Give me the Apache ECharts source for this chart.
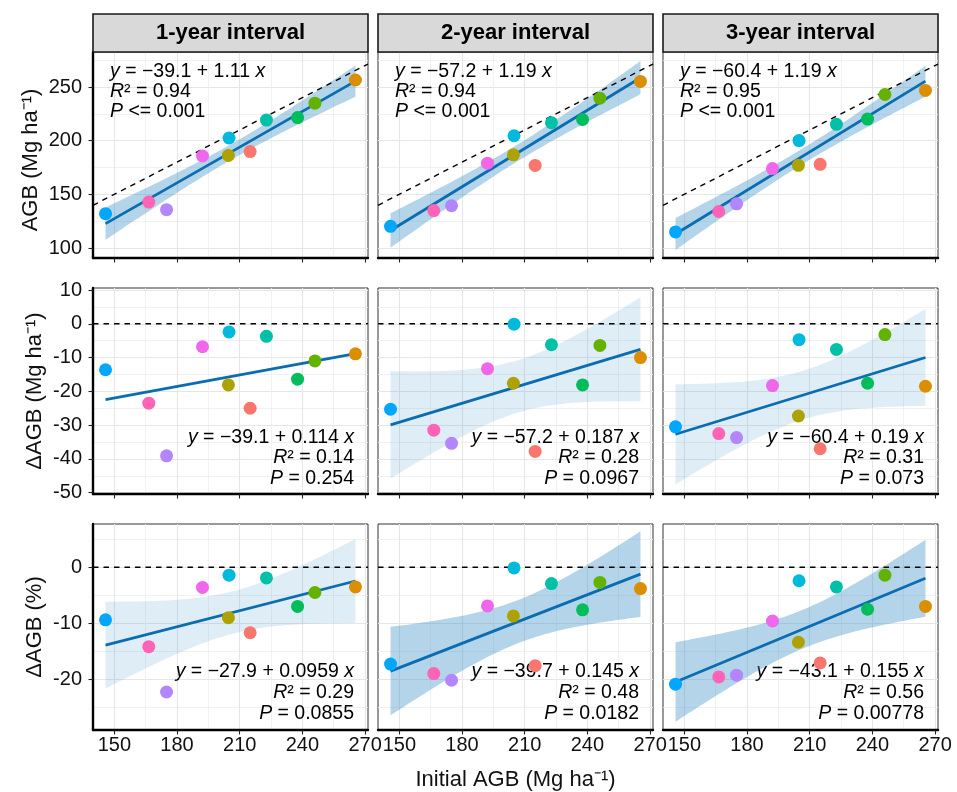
<!DOCTYPE html>
<html>
<head>
<meta charset="utf-8">
<script src="https://cdn.jsdelivr.net/npm/echarts@6/dist/echarts.min.js"></script>
<style>
html, body { margin: 0; padding: 0; background: #fff; }
#main { width: 957px; height: 792px; }
</style>
</head>
<body>
<div id="main"></div>
<script>
// plots: salmon, orange, olive, lime, green, teal, cyan, blue, purple, magenta, pink
var plotColors = ['#F8766D', '#DB8E00', '#AEA200', '#64B200', '#00BD5C', '#00C1A7', '#00BADE', '#00A6FF', '#B385FF', '#EF67EB', '#FF63B6'];
var initialAgb = [215.0, 265.4, 204.6, 246.0, 237.7, 222.8, 204.9, 145.8, 175.0, 192.2, 166.5];

// AGB after interval
var agb1 = [189.8, 256.5, 186.3, 234.9, 221.5, 219.2, 202.5, 132.0, 135.7, 185.7, 142.8];
var agb2 = [176.9, 255.2, 186.8, 239.5, 219.7, 216.7, 204.6, 120.2, 139.4, 179.0, 134.9];
var agb3 = [178.0, 246.8, 177.0, 243.0, 220.1, 215.2, 200.1, 115.0, 141.2, 174.0, 134.0];
// delta AGB (Mg/ha)
var dAgb1 = [-25.0, -8.9, -18.1, -11.0, -16.4, -3.7, -2.4, -13.6, -39.1, -6.8, -23.5];
var dAgb2 = [-37.8, -10.0, -17.6, -6.4, -18.1, -6.2, -0.1, -25.3, -35.4, -13.3, -31.5];
var dAgb3 = [-37.0, -18.5, -27.3, -3.2, -17.6, -7.6, -4.7, -30.5, -33.7, -18.3, -32.5];
// delta AGB (%)
var pAgb1 = [-11.7, -3.5, -9.0, -4.5, -7.0, -1.9, -1.4, -9.4, -22.3, -3.6, -14.2];
var pAgb2 = [-17.6, -3.8, -8.7, -2.7, -7.6, -2.9, -0.1, -17.3, -20.2, -6.9, -19.0];
var pAgb3 = [-17.1, -7.0, -13.4, -1.4, -7.5, -3.5, -2.4, -20.9, -19.3, -9.6, -19.6];

var panelData = [[agb1, agb2, agb3], [dAgb1, dAgb2, dAgb3], [pAgb1, pAgb2, pAgb3]];

var colNames = ['1-year interval', '2-year interval', '3-year interval'];
var rowNames = ['AGB (Mg ha\u207B\u00B9)', '\u0394AGB (Mg ha\u207B\u00B9)', '\u0394AGB (%)'];

var intercepts = [[-39.1, -57.2, -60.4], [-39.1, -57.2, -60.4], [-27.9, -39.7, -43.1]];
var slopes = [[1.11, 1.19, 1.19], [0.114, 0.187, 0.19], [0.0959, 0.145, 0.155]];
var interceptLabels = [['39.1', '57.2', '60.4'], ['39.1', '57.2', '60.4'], ['27.9', '39.7', '43.1']];
var slopeLabels = [['1.11', '1.19', '1.19'], ['0.114', '0.187', '0.19'], ['0.0959', '0.145', '0.155']];
var r2Labels = [['0.94', '0.94', '0.95'], ['0.14', '0.28', '0.31'], ['0.29', '0.48', '0.56']];
var pLabels = [['<= 0.001', '<= 0.001', '<= 0.001'], ['= 0.254', '= 0.0967', '= 0.073'], ['= 0.0855', '= 0.0182', '= 0.00778']];
// 0 = no band, 1 = light (0.05 < P < 0.1), 2 = normal (P < 0.05)
var bandLevel = [[2, 2, 2], [0, 1, 1], [1, 2, 2]];

var xTicks = [150, 180, 210, 240, 270];
var xMinorTicks = [165, 195, 225, 255];
var xLimits = [139.8, 271.4];
var yTicks = [[100, 150, 200, 250], [-50, -40, -30, -20, -10, 0, 10], [-20, -10, 0]];
var yMinorTicks = [[125, 175, 225, 275], [-45, -35, -25, -15, -5, 5], [-25, -15, -5, 5]];
var yLimits = [[90.7, 282.6], [-50.4, 10.6], [-29.1, 7.75]];

var FONT = 'Liberation Sans, Arial, Helvetica, sans-serif';
var colLeft = [93, 378, 663];
var rowTop = [52, 288, 524];
var PW = 275, PH = 206;
var lineColor = '#0a6db2';
var bandColors = [null, 'rgba(58,143,200,0.16)', 'rgba(58,143,200,0.38)'];

// 95% confidence band of the fitted line
function confBand(xs, ys, a, b) {
    var n = xs.length, xm = 0, sxx = 0, sse = 0;
    for (var i = 0; i < n; i++) xm += xs[i];
    xm /= n;
    for (var i = 0; i < n; i++) {
        sxx += (xs[i] - xm) * (xs[i] - xm);
        var e = ys[i] - (a + b * xs[i]);
        sse += e * e;
    }
    var s = Math.sqrt(sse / (n - 2)), t = 2.262;
    var x0 = Math.min.apply(null, xs), x1 = Math.max.apply(null, xs);
    var hi = [], lo = [];
    for (var k = 0; k <= 60; k++) {
        var x = x0 + (x1 - x0) * k / 60;
        var h = t * s * Math.sqrt(1 / n + (x - xm) * (x - xm) / sxx);
        hi.push([x, a + b * x + h]);
        lo.push([x, a + b * x - h]);
    }
    return hi.concat(lo.reverse());
}

var grids = [], xAxes = [], yAxes = [], series = [], graphics = [];

for (var r = 0; r < 3; r++) {
    for (var c = 0; c < 3; c++) {
        var g = r * 3 + c;
        grids.push({
            left: colLeft[c], top: rowTop[r], width: PW, height: PH,
            show: true, borderColor: '#333', borderWidth: 1, backgroundColor: 'transparent',
            containLabel: false, outerBoundsMode: 'none'
        });
        // main axes
        xAxes.push({
            type: 'value', gridIndex: g, min: xLimits[0], max: xLimits[1],
            axisLine: { show: true, onZero: false, lineStyle: { color: '#000', width: 2.4 } },
            axisTick: { show: true, length: 4.5, customValues: xTicks, lineStyle: { color: '#222', width: 1.1 } },
            axisLabel: { show: r === 2, customValues: xTicks, margin: 5, fontSize: 20, color: '#111', fontFamily: FONT },
            splitLine: { show: true, lineStyle: { color: '#e6e6e6', width: 1.1 } }
        });
        // minor grid lines
        xAxes.push({
            type: 'value', gridIndex: g, min: xLimits[0], max: xLimits[1],
            axisLine: { show: false },
            axisTick: { show: false, customValues: xMinorTicks },
            axisLabel: { show: false, customValues: xMinorTicks },
            splitLine: { show: true, lineStyle: { color: '#eeeeee', width: 0.8 } }
        });
        yAxes.push({
            type: 'value', gridIndex: g, min: yLimits[r][0], max: yLimits[r][1],
            axisLine: { show: c === 0, onZero: false, lineStyle: { color: '#000', width: 2.4 } },
            axisTick: { show: c === 0, length: 4.5, customValues: yTicks[r], lineStyle: { color: '#222', width: 1.1 } },
            axisLabel: { show: c === 0, customValues: yTicks[r], margin: 11, fontSize: 20, color: '#111', fontFamily: FONT },
            splitLine: { show: true, lineStyle: { color: '#e6e6e6', width: 1.1 } }
        });
        yAxes.push({
            type: 'value', gridIndex: g, min: yLimits[r][0], max: yLimits[r][1],
            axisLine: { show: false },
            axisTick: { show: false, customValues: yMinorTicks[r] },
            axisLabel: { show: false, customValues: yMinorTicks[r] },
            splitLine: { show: true, lineStyle: { color: '#eeeeee', width: 0.8 } }
        });

        var xi = 2 * g, yi = 2 * g;
        var ys = panelData[r][c];
        var a = intercepts[r][c], b = slopes[r][c];

        if (bandLevel[r][c] > 0) {
            (function (pts, fill) {
                series.push({
                    type: 'custom', xAxisIndex: xi, yAxisIndex: yi, silent: true, z: 2,
                    data: [0],
                    renderItem: function (params, api) {
                        return {
                            type: 'polygon',
                            shape: { points: pts.map(function (p) { return api.coord(p); }) },
                            style: { fill: fill, stroke: null }
                        };
                    }
                });
            })(confBand(initialAgb, ys, a, b), bandColors[bandLevel[r][c]]);
        }

        // reference line: 1:1 in top row, zero elsewhere
        var refLine = r === 0
            ? [[xLimits[0], xLimits[0]], [xLimits[1], xLimits[1]]]
            : [[xLimits[0], 0], [xLimits[1], 0]];
        series.push({
            type: 'line', xAxisIndex: xi, yAxisIndex: yi, data: refLine, symbol: 'none', silent: true, z: 3,
            lineStyle: { color: '#000', width: 1.4, type: [5.5, 5] }
        });

        var x0 = Math.min.apply(null, initialAgb), x1 = Math.max.apply(null, initialAgb);
        series.push({
            type: 'line', xAxisIndex: xi, yAxisIndex: yi, symbol: 'none', silent: true, z: 4,
            data: [[x0, a + b * x0], [x1, a + b * x1]],
            lineStyle: { color: lineColor, width: 2.8 }
        });

        series.push({
            type: 'scatter', xAxisIndex: xi, yAxisIndex: yi, symbolSize: 13, z: 6, silent: true,
            data: initialAgb.map(function (x, i) {
                return { value: [x, ys[i]], itemStyle: { color: plotColors[i], opacity: 1 } };
            })
        });

        // regression annotation
        var lines = [
            '{i|y} = \u2212' + interceptLabels[r][c] + ' + ' + slopeLabels[r][c] + ' {i|x}',
            '{i|R}\u00B2 = ' + r2Labels[r][c],
            '{i|P} ' + pLabels[r][c]
        ];
        var offs = r === 0 ? [20, 40, 60] : (r === 1 ? [150, 170, 191] : [148, 169, 190]);
        for (var k = 0; k < 3; k++) {
            graphics.push({
                type: 'text', z: 1,
                x: r === 0 ? colLeft[c] + 17 : colLeft[c] + PW - 14,
                y: rowTop[r] + offs[k],
                style: {
                    text: lines[k],
                    fontSize: 19.5, fontFamily: FONT, fill: '#000',
                    align: r === 0 ? 'left' : 'right', textAlign: r === 0 ? 'left' : 'right',
                    verticalAlign: 'middle', textVerticalAlign: 'middle',
                    rich: { i: { fontStyle: 'italic', fontSize: 19.5, fontFamily: FONT, fill: '#000', color: '#000' } }
                }
            });
        }
    }
}

// facet strips
for (var c = 0; c < 3; c++) {
    graphics.push({
        type: 'rect', z: 1,
        shape: { x: colLeft[c], y: 14, width: PW, height: 38 },
        style: { fill: '#d9d9d9', stroke: '#1a1a1a', lineWidth: 1.6 }
    });
    graphics.push({
        type: 'text', z: 2, x: colLeft[c] + PW / 2, y: 33,
        style: {
            text: colNames[c], fontSize: 22, fontWeight: 'bold', fontFamily: FONT, fill: '#000',
            align: 'center', textAlign: 'center', verticalAlign: 'middle', textVerticalAlign: 'middle'
        }
    });
}

// axis titles
var yTitlePos = [[31, 160], [35, 391], [35, 627]];
for (var r = 0; r < 3; r++) {
    graphics.push({
        type: 'text', z: 1, x: yTitlePos[r][0], y: yTitlePos[r][1], rotation: Math.PI / 2,
        style: {
            text: rowNames[r], fontSize: 22, fontFamily: FONT, fill: '#111',
            align: 'center', textAlign: 'center', verticalAlign: 'middle', textVerticalAlign: 'middle'
        }
    });
}
graphics.push({
    type: 'text', z: 1, x: 515.5, y: 780,
    style: {
        text: 'Initial AGB (Mg ha\u207B\u00B9)', fontSize: 22, fontFamily: FONT, fill: '#111',
        align: 'center', textAlign: 'center', verticalAlign: 'middle', textVerticalAlign: 'middle'
    }
});

var myChart = echarts.init(document.getElementById('main'), null, { renderer: 'canvas' });
myChart.setOption({
    backgroundColor: '#fff',
    animation: false,
    grid: grids,
    xAxis: xAxes,
    yAxis: yAxes,
    series: series,
    graphic: { elements: graphics }
});
</script>
</body>
</html>
